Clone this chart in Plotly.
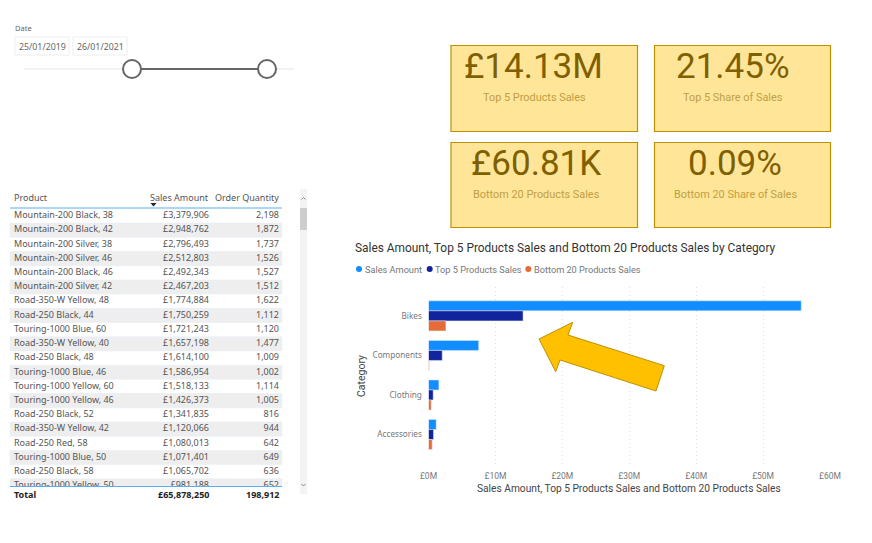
import plotly.graph_objects as go

W, H = 872, 543

# chart data
categories = ['Bikes', 'Components', 'Clothing', 'Accessories']
sales_amount = [55.7, 7.5, 1.55, 1.15]
top5_sales = [14.13, 2.05, 0.7, 0.75]
bottom20_sales = [2.6, 0.1, 0.4, 0.55]
series_names = ['Sales Amount', 'Top 5 Products Sales', 'Bottom 20 Products Sales']
series_colors = ['#118DFF', '#12239E', '#E66C37']

# table data
products = ['Mountain-200 Black, 38', 'Mountain-200 Black, 42', 'Mountain-200 Silver, 38',
            'Mountain-200 Silver, 46', 'Mountain-200 Black, 46', 'Mountain-200 Silver, 42',
            'Road-350-W Yellow, 48', 'Road-250 Black, 44', 'Touring-1000 Blue, 60',
            'Road-350-W Yellow, 40', 'Road-250 Black, 48', 'Touring-1000 Blue, 46',
            'Touring-1000 Yellow, 60', 'Touring-1000 Yellow, 46', 'Road-250 Black, 52',
            'Road-350-W Yellow, 42', 'Road-250 Red, 58', 'Touring-1000 Blue, 50',
            'Road-250 Black, 58', 'Touring-1000 Yellow, 50']
product_sales = [3379906, 2948762, 2796493, 2512803, 2492343, 2467203, 1774884, 1750259,
                 1721243, 1657198, 1614100, 1586954, 1518133, 1426373, 1341835, 1120066,
                 1080013, 1071401, 1065702, 981188]
product_qty = [2198, 1872, 1737, 1526, 1527, 1512, 1622, 1112, 1120, 1477, 1009, 1002,
               1114, 1005, 816, 944, 642, 649, 636, 652]
total_sales = 65878250
total_qty = 198912

# KPI cards
kpi_values = ['£14.13M', '21.45%', '£60.81K', '0.09%']
kpi_labels = ['Top 5 Products Sales', 'Top 5 Share of Sales',
              'Bottom 20 Products Sales', 'Bottom 20 Share of Sales']

date_from = '25/01/2019'
date_to = '26/01/2021'

TEXT_FONT = 'Noto Sans'
DIN_FONT = 'Roboto'
CELL_SIZE = 9


def px(x):
    return x / W


def py(y):
    return 1 - y / H


def box(x0, y0, x1, y1, **kw):
    return dict(type='rect', xref='paper', yref='paper',
                x0=px(x0), x1=px(x1), y0=py(y0), y1=py(y1), **kw)


def poly(points, closed=True, **kw):
    path = 'M' + ' L'.join(f'{px(x):.5f},{py(y):.5f}' for x, y in points)
    return dict(type='path', xref='paper', yref='paper', path=path + (' Z' if closed else ''), **kw)


def label(x, y, text, size, color, family=TEXT_FONT, anchor='left', **kw):
    # annotations carry about 2px of padding, take it back for left/right anchored text
    shift = {'left': -2, 'right': 2, 'center': 0}[anchor]
    return dict(x=px(x + shift), y=py(y), xref='paper', yref='paper', text=text, showarrow=False,
                xanchor=anchor, yanchor='middle', font=dict(size=size, color=color, family=family), **kw)


fig = go.Figure()

# bars
for name, vals, col in zip(series_names, [sales_amount, top5_sales, bottom20_sales], series_colors):
    fig.add_trace(go.Bar(y=categories, x=vals, name=name, orientation='h', marker_color=col,
                         hoverinfo='skip'))

# table stripes and cell text
row_ids = list(range(len(products)))
fig.add_trace(go.Bar(y=row_ids[1::2], x=[272] * len(row_ids[1::2]), base=10, width=1, orientation='h',
                     marker_color='#EEEEEE', xaxis='x2', yaxis='y2', hoverinfo='skip'))
cell_font = dict(size=CELL_SIZE, color='#555555', family=TEXT_FONT)
fig.add_trace(go.Scatter(x=[14] * len(products), y=row_ids, text=products, mode='text',
                         textposition='middle right', textfont=cell_font,
                         xaxis='x2', yaxis='y2', hoverinfo='skip'))
fig.add_trace(go.Scatter(x=[209] * len(products), y=row_ids, text=[f'£{v:,}' for v in product_sales],
                         mode='text', textposition='middle left', textfont=cell_font,
                         xaxis='x2', yaxis='y2', hoverinfo='skip'))
fig.add_trace(go.Scatter(x=[279] * len(products), y=row_ids, text=[f'{v:,}' for v in product_qty],
                         mode='text', textposition='middle left', textfont=cell_font,
                         xaxis='x2', yaxis='y2', hoverinfo='skip'))

shapes = []
annotations = []

# date slicer
annotations.append(label(15, 28, 'Date', 7.5, '#666666'))
for x0, x1, txt in [(15, 69, date_from), (73, 127, date_to)]:
    shapes.append(box(x0, 37, x1, 55, line=dict(color='#EEEEEE', width=1), fillcolor='white'))
    annotations.append(label((x0 + x1) / 2, 46.5, txt, 8.8, '#666666', anchor='center'))
shapes.append(dict(type='line', xref='paper', yref='paper', x0=px(24), x1=px(294), y0=py(69), y1=py(69),
                   line=dict(color='#EEEEEE', width=1.5)))
shapes.append(dict(type='line', xref='paper', yref='paper', x0=px(132), x1=px(267), y0=py(69), y1=py(69),
                   line=dict(color='#666666', width=2)))
for cx in [132, 267]:
    shapes.append(dict(type='circle', xref='paper', yref='paper', x0=px(cx - 9), x1=px(cx + 9),
                       y0=py(78), y1=py(60), fillcolor='white', line=dict(color='#666666', width=2)))

# table header / total / scrollbar
annotations.append(label(14, 197, 'Product', CELL_SIZE, '#555555'))
annotations.append(label(208.5, 197, 'Sales Amount', CELL_SIZE, '#555555', anchor='right'))
annotations.append(label(279, 197, 'Order Quantity', CELL_SIZE, '#555555', anchor='right'))
shapes.append(poly([(150.5, 203), (156.5, 203), (153.5, 206.5)], fillcolor='#222222', line_width=0))
annotations.append(label(14, 494, '<b>Total</b>', CELL_SIZE, '#222222'))
annotations.append(label(208.5, 494, f'<b>£{total_sales:,}</b>', CELL_SIZE, '#222222', anchor='right'))
annotations.append(label(279, 494, f'<b>{total_qty:,}</b>', CELL_SIZE, '#222222', anchor='right'))
for yy in [208, 486.5]:
    shapes.append(dict(type='line', xref='paper', yref='paper', x0=px(10), x1=px(282), y0=py(yy), y1=py(yy),
                       line=dict(color='#5AAEF0', width=1)))
shapes.append(box(300, 189, 307, 494, fillcolor='#F3F3F3', line_width=0))
shapes.append(box(300, 208, 307, 230, fillcolor='#CDCDCD', line_width=0))
shapes.append(poly([(301.5, 199.5), (303.5, 197.5), (305.5, 199.5)], closed=False,
                   line=dict(color='#888888', width=1)))
shapes.append(poly([(301.5, 484), (303.5, 486), (305.5, 484)], closed=False,
                   line=dict(color='#888888', width=1)))

# KPI cards
card_boxes = [(451, 45.5, 637.5, 131.5), (654.5, 45.5, 830.5, 131.5),
              (451, 142.5, 637.5, 227.5), (654.5, 142.5, 830.5, 227.5)]
value_pos = [(533, 66), (733, 66), (536, 163), (735, 163)]
label_pos = [(534, 97), (733, 97), (536, 194), (735, 194)]
for b, vp, lp, v, t in zip(card_boxes, value_pos, label_pos, kpi_values, kpi_labels):
    shapes.append(box(*b, fillcolor='#FFE597', line=dict(color='#BF9000', width=1.2)))
    annotations.append(label(vp[0], vp[1], v, 35, '#7F6000', family=DIN_FONT, anchor='center'))
    annotations.append(label(lp[0], lp[1], t, 10.9, '#BF9F45', family=DIN_FONT, anchor='center'))

# chart title, axis titles and legend
measure_title = series_names[0] + ', ' + series_names[1] + ' and ' + series_names[2]
annotations.append(label(355, 248, measure_title + ' by Category', 11.9, '#333333', family=DIN_FONT))
annotations.append(label(629, 488, measure_title, 10.2, '#444444', family=DIN_FONT, anchor='center'))
annotations.append(label(361, 376, 'Category', 10.5, '#444444', family=DIN_FONT, anchor='center', textangle=-90))
for cx, name, col in zip([359, 429.7, 528.3], series_names, series_colors):
    shapes.append(dict(type='circle', xref='paper', yref='paper', x0=px(cx - 3), x1=px(cx + 3),
                       y0=py(272), y1=py(266), fillcolor=col, line_width=0))
    annotations.append(label(cx + 5.5, 269, name, 9.2, '#777777', family=DIN_FONT))

# yellow arrow
arrow_pts = [(539, 339), (572.7, 322.3), (568, 335), (664.3, 365.7), (656, 391), (560, 360), (555.7, 371.7)]
shapes.append(poly(arrow_pts, fillcolor='#FFC000', line=dict(color='#BF9000', width=1)))

fig.update_layout(
    width=W, height=H, margin=dict(l=0, r=0, t=0, b=0, autoexpand=False), showlegend=False,
    plot_bgcolor='white', paper_bgcolor='white', barmode='group', bargap=0.24, bargroupgap=0,
    font=dict(family=DIN_FONT),
    shapes=shapes, annotations=annotations,
    xaxis=dict(domain=[px(428.5), px(830)], range=[0, 60], dtick=10, tickprefix='£', ticksuffix='M',
               showgrid=True, gridcolor='#DEDEDE', griddash='1px,3px', zeroline=False, showline=False,
               ticks='outside', ticklen=3, tickcolor='rgba(0,0,0,0)',
               tickfont=dict(size=8.5, color='#777777')),
    yaxis=dict(domain=[py(465), py(287)], range=[3.77, -0.73], type='category', categoryorder='array',
               categoryarray=categories, showgrid=False, zeroline=False, showline=False,
               ticks='outside', ticklen=4, tickcolor='rgba(0,0,0,0)',
               tickfont=dict(size=8.2, color='#777777', family=TEXT_FONT)),
    xaxis2=dict(domain=[0, px(300)], range=[0, 300], visible=False, anchor='y2'),
    yaxis2=dict(domain=[py(486.5), py(209)], range=[19.04, -0.49], visible=False, anchor='x2'),
)

fig.write_html("out.html", config=dict(displayModeBar=False),
               post_script="document.body.style.margin='0';document.body.style.overflow='hidden';")
